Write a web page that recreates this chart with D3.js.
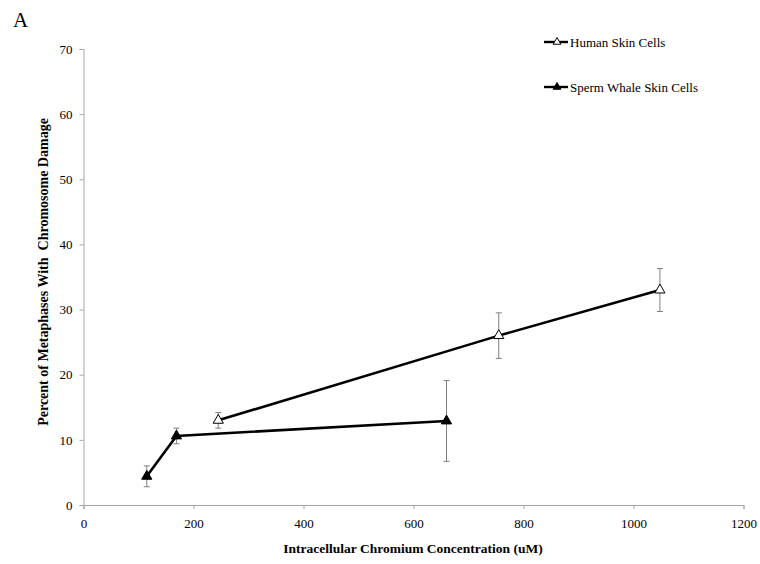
<!DOCTYPE html>
<html>
<head>
<meta charset="utf-8">
<script src="https://cdn.jsdelivr.net/npm/d3@7"></script>
<style>
  body { margin: 0; background: #fff; }
  svg { display: block; }
  svg text { font-family: "Liberation Serif", "Times New Roman", serif; }
</style>
</head>
<body>
<svg id="chart" width="760" height="564"></svg>
<script>
// Chromium concentration (uM) vs. percent of metaphases with chromosome damage
const humanX   = [245, 755, 1048];
const humanY   = [13.0, 26.0, 33.0];
const humanErr = [1.2, 3.5, 3.3];

const whaleX   = [115, 169, 660];
const whaleY   = [4.4, 10.6, 12.9];
const whaleErr = [1.6, 1.2, 6.2];

const xTicks = [0, 200, 400, 600, 800, 1000, 1200];
const yTicks = [0, 10, 20, 30, 40, 50, 60, 70];

const seriesNames = ["Human Skin Cells", "Sperm Whale Skin Cells"];

const svg = d3.select("#chart");
const x = d3.scaleLinear().domain([0, 1200]).range([83.5, 743.5]);
const y = d3.scaleLinear().domain([0, 70]).range([505, 49]);

const axisColor = "#a6a6a6";
const serif = "'Liberation Serif', 'Times New Roman', serif";

// Axes
const xAxis = svg.append("g")
  .attr("transform", `translate(0,${y(0)})`)
  .call(d3.axisBottom(x).tickValues(xTicks).tickSize(4).tickPadding(10).tickFormat(d3.format("d")));
const yAxis = svg.append("g")
  .attr("transform", `translate(${x(0)},0)`)
  .call(d3.axisLeft(y).tickValues(yTicks).tickSize(4).tickPadding(7).tickFormat(d3.format("d")));

[xAxis, yAxis].forEach(g => {
  g.attr("font-family", serif).attr("font-size", 13);
  g.selectAll("path.domain").attr("stroke", axisColor).attr("stroke-width", 1);
  g.selectAll(".tick line").attr("stroke", axisColor);
  g.selectAll(".tick text").attr("fill", "#000");
});

// Axis titles
svg.append("text")
  .attr("x", 413).attr("y", 553)
  .attr("text-anchor", "middle")
  .attr("font-size", 13.5).attr("font-weight", "bold")
  .text("Intracellular Chromium Concentration (uM)");

svg.append("text")
  .attr("transform", "translate(48,272) rotate(-90)")
  .attr("text-anchor", "middle")
  .attr("font-size", 14).attr("font-weight", "bold")
  .style("white-space", "pre")
  .text("Percent of Metaphases With  Chromosome Damage");

// Panel letter
svg.append("text")
  .attr("x", 13).attr("y", 27)
  .attr("font-size", 21)
  .text("A");

const tri = d3.symbol().type(d3.symbolTriangle).size(45);
const triSmall = d3.symbol().type(d3.symbolTriangle).size(26);

function drawSeries(xs, ys, errs, filled) {
  const pts = xs.map((v, i) => ({ x: v, y: ys[i], e: errs[i] }));
  const g = svg.append("g");

  // Error bars
  const eb = g.selectAll("g.err").data(pts).enter().append("g").attr("class", "err");
  eb.append("line")
    .attr("x1", d => x(d.x)).attr("x2", d => x(d.x))
    .attr("y1", d => y(d.y + d.e)).attr("y2", d => y(d.y - d.e))
    .attr("stroke", "#7f7f7f").attr("stroke-width", 1);
  [1, -1].forEach(s => {
    eb.append("line")
      .attr("x1", d => x(d.x) - 3).attr("x2", d => x(d.x) + 3)
      .attr("y1", d => y(d.y + s * d.e)).attr("y2", d => y(d.y + s * d.e))
      .attr("stroke", "#7f7f7f").attr("stroke-width", 1);
  });

  // Connecting line
  g.append("path")
    .datum(pts)
    .attr("d", d3.line().x(d => x(d.x)).y(d => y(d.y)))
    .attr("fill", "none").attr("stroke", "#000").attr("stroke-width", 2.6);

  // Markers
  g.selectAll("path.mk").data(pts).enter().append("path")
    .attr("class", "mk")
    .attr("d", tri)
    .attr("transform", d => `translate(${x(d.x)},${y(d.y)})`)
    .attr("fill", filled ? "#000" : "#fff")
    .attr("stroke", "#000").attr("stroke-width", 1);
}

drawSeries(humanX, humanY, humanErr, false);
drawSeries(whaleX, whaleY, whaleErr, true);

// Legend
const legend = svg.append("g");
[{ name: seriesNames[0], filled: false, yy: 42 }, { name: seriesNames[1], filled: true, yy: 87 }]
  .forEach(item => {
    legend.append("line")
      .attr("x1", 544).attr("x2", 568).attr("y1", item.yy).attr("y2", item.yy)
      .attr("stroke", "#000").attr("stroke-width", 2.4);
    legend.append("path")
      .attr("d", triSmall)
      .attr("transform", `translate(557,${item.yy})`)
      .attr("fill", item.filled ? "#000" : "#fff")
      .attr("stroke", "#000").attr("stroke-width", 1);
    legend.append("text")
      .attr("x", 570).attr("y", item.yy + 4.5)
      .attr("font-size", 13)
      .text(item.name);
  });
</script>
</body>
</html>
